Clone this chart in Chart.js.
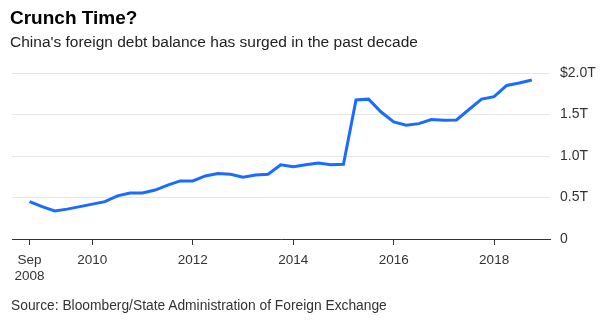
<!DOCTYPE html>
<html>
<head>
<meta charset="utf-8">
<script src="https://cdn.jsdelivr.net/npm/chart.js@4"></script>
<style>
    html, body { margin: 0; padding: 0; background: #fff; }
    #wrap { position: relative; width: 600px; height: 324px; overflow: hidden; font-family: "Liberation Sans", Arial, sans-serif; }
    #chart { position: absolute; left: 0; top: 0; }
    .title { position: absolute; left: 10px; top: 7px; font-size: 19px; font-weight: bold; color: #000; }
    .subtitle { position: absolute; left: 10px; top: 33px; font-size: 15.5px; color: #222; }
    .source { position: absolute; left: 11px; top: 298px; font-size: 13.8px; color: #333; }
</style>
</head>
<body>
<div id="wrap">
    <canvas id="chart" width="600" height="324"></canvas>
    <div class="title">Crunch Time?</div>
    <div class="subtitle">China's foreign debt balance has surged in the past decade</div>
    <div class="source">Source: Bloomberg/State Administration of Foreign Exchange</div>
</div>
<script>
// Quarterly foreign debt balance, Sep 2008 - Sep 2018 (trillions of USD)
const quarters = [0, 1, 2, 3, 4, 5, 6, 7, 8, 9, 10, 11, 12, 13, 14, 15, 16, 17, 18, 19, 20,
    21, 22, 23, 24, 25, 26, 27, 28, 29, 30, 31, 32, 33, 34, 35, 36, 37, 38, 39, 40];
const debtValues = [0.45, 0.39, 0.337, 0.36, 0.39, 0.42, 0.45, 0.52, 0.555, 0.555, 0.59,
    0.65, 0.70, 0.70, 0.76, 0.79, 0.78, 0.745, 0.77, 0.78, 0.895,
    0.87, 0.895, 0.915, 0.895, 0.90, 1.675, 1.685, 1.53, 1.41, 1.37,
    1.39, 1.44, 1.43, 1.435, 1.56, 1.685, 1.715, 1.85, 1.88, 1.915];

// x tick positions (quarter index) and labels
const xTickPos = [0, 5, 13, 21, 29, 37];
const xTickLabels = [['Sep', '2008'], '2010', '2012', '2014', '2016', '2018'];

// y tick values and labels
const yTickVals = [0, 0.5, 1.0, 1.5, 2.0];
const yTickLabels = ['0', '0.5T', '1.0T', '1.5T', '$2.0T'];

const points = quarters.map((q, i) => ({ x: q, y: debtValues[i] }));

const ctx = document.getElementById('chart').getContext('2d');
const chart = new Chart(ctx, {
    type: 'line',
    data: {
        datasets: [{
            data: points,
            borderColor: '#1a6bff',
            borderWidth: 3,
            pointRadius: 0,
            tension: 0,
            fill: false
        }]
    },
    options: {
        responsive: false,
        animation: false,
        layout: {
            padding: { top: 73, left: 12, right: 0, bottom: 0 }
        },
        plugins: {
            legend: { display: false },
            tooltip: { enabled: false }
        },
        scales: {
            x: {
                type: 'linear',
                min: -1.4,
                max: 41.45,
                afterBuildTicks: function(axis) {
                    axis.ticks = xTickPos.map(v => ({ value: v }));
                },
                afterFit: function(scale) {
                    scale.height = 85;
                },
                ticks: {
                    autoSkip: false,
                    maxRotation: 0,
                    padding: 7,
                    color: '#333',
                    font: { family: 'Liberation Sans', size: 13.5 },
                    callback: function(value, index) {
                        return xTickLabels[index];
                    }
                },
                grid: {
                    drawOnChartArea: false,
                    drawTicks: true,
                    tickLength: 6,
                    color: '#333'
                },
                border: { display: true, color: '#333', width: 1 }
            },
            y: {
                position: 'right',
                min: 0,
                max: 2,
                afterBuildTicks: function(axis) {
                    axis.ticks = yTickVals.map(v => ({ value: v }));
                },
                afterFit: function(scale) {
                    scale.width = 50;
                },
                ticks: {
                    padding: 10,
                    color: '#333',
                    font: { family: 'Liberation Sans', size: 14 },
                    callback: function(value, index) {
                        return yTickLabels[index];
                    }
                },
                grid: {
                    drawTicks: false,
                    color: '#e6e6e6',
                    lineWidth: 1
                },
                border: { display: false }
            }
        }
    }
});
</script>
</body>
</html>
